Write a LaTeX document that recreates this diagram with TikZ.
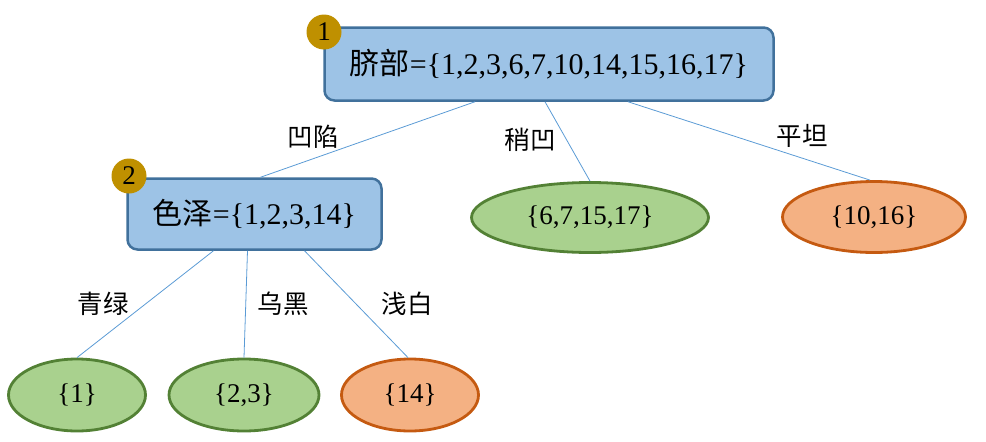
\documentclass[tikz,border=0pt]{standalone}
\usepackage{fontspec}
\setmainfont{Liberation Serif}
\newfontfamily\cjk{Noto Sans CJK SC}
\usetikzlibrary{shapes.geometric}
\definecolor{attrfill}{HTML}{9DC3E6}
\definecolor{attrline}{HTML}{41719C}
\definecolor{yesfill}{HTML}{A9D18E}
\definecolor{yesline}{HTML}{538135}
\definecolor{nofill}{HTML}{F4B183}
\definecolor{noline}{HTML}{C55A11}
\definecolor{edgeline}{HTML}{5B9BD5}
\definecolor{badgefill}{HTML}{BF9000}

\begin{document}
\begin{tikzpicture}[x=1pt,y=-1pt,
  attr/.style={draw=attrline,fill=attrfill,line width=2.5pt,rounded corners=10pt,
    inner sep=0pt,font=\fontsize{30}{32}\selectfont},
  good/.style={ellipse,draw=yesline,fill=yesfill,line width=2.8pt,inner sep=0pt,
    font=\fontsize{27}{29}\selectfont},
  bad/.style={ellipse,draw=noline,fill=nofill,line width=2.8pt,inner sep=0pt,
    font=\fontsize{27}{29}\selectfont},
  badge/.style={circle,fill=badgefill,minimum size=35pt,inner sep=0pt,
    font=\fontsize{27}{29}\selectfont},
  branch/.style={draw=edgeline,line width=0.8pt},
  lbl/.style={font=\cjk\fontsize{25.5}{27}\selectfont}]
\useasboundingbox (0,0) rectangle (986,442);

% nodes
\node[attr,minimum width=449pt,minimum height=73pt] (navel) at (549,64) {{\cjk 脐部}=\{1,2,3,6,7,10,14,15,16,17\}};
\node[attr,minimum width=254pt,minimum height=71pt] (color) at (254.5,214) {{\cjk 色泽}=\{1,2,3,14\}};
\node[good,minimum width=237pt,minimum height=70pt] (slight) at (590,217.5) {\{6,7,15,17\}};
\node[bad,minimum width=183pt,minimum height=71pt] (flat) at (874,217) {\{10,16\}};
\node[good,minimum width=137pt,minimum height=72pt] (green) at (77,395) {\{1\}};
\node[good,minimum width=150pt,minimum height=72pt] (black) at (244,395) {\{2,3\}};
\node[bad,minimum width=137pt,minimum height=72pt] (white) at (410,395) {\{14\}};

\node[badge] (one) at (324,32) {1};
\node[badge] (two) at (129,176) {2};

% branches
\draw[branch] ([xshift=-74pt]navel.south) -- ([xshift=6pt]color.north);
\draw[branch] ([xshift=-4pt]navel.south) -- (slight.north);
\draw[branch] ([xshift=79pt]navel.south) -- ([xshift=-4pt]flat.north);
\draw[branch] ([xshift=-41pt]color.south) -- (green.north);
\draw[branch] ([xshift=-7pt]color.south) -- (black.north);
\draw[branch] ([xshift=50pt]color.south) -- ([xshift=-2pt]white.north);

% branch labels
\node[lbl] (lconcave) at (313,137) {凹陷};
\node[lbl] (lslight) at (530,140) {稍凹};
\node[lbl] (lflat) at (802,136) {平坦};
\node[lbl] (lgreen) at (103,304) {青绿};
\node[lbl] (lblack) at (283,304) {乌黑};
\node[lbl] (lwhite) at (407,304) {浅白};
\end{tikzpicture}
\end{document}
